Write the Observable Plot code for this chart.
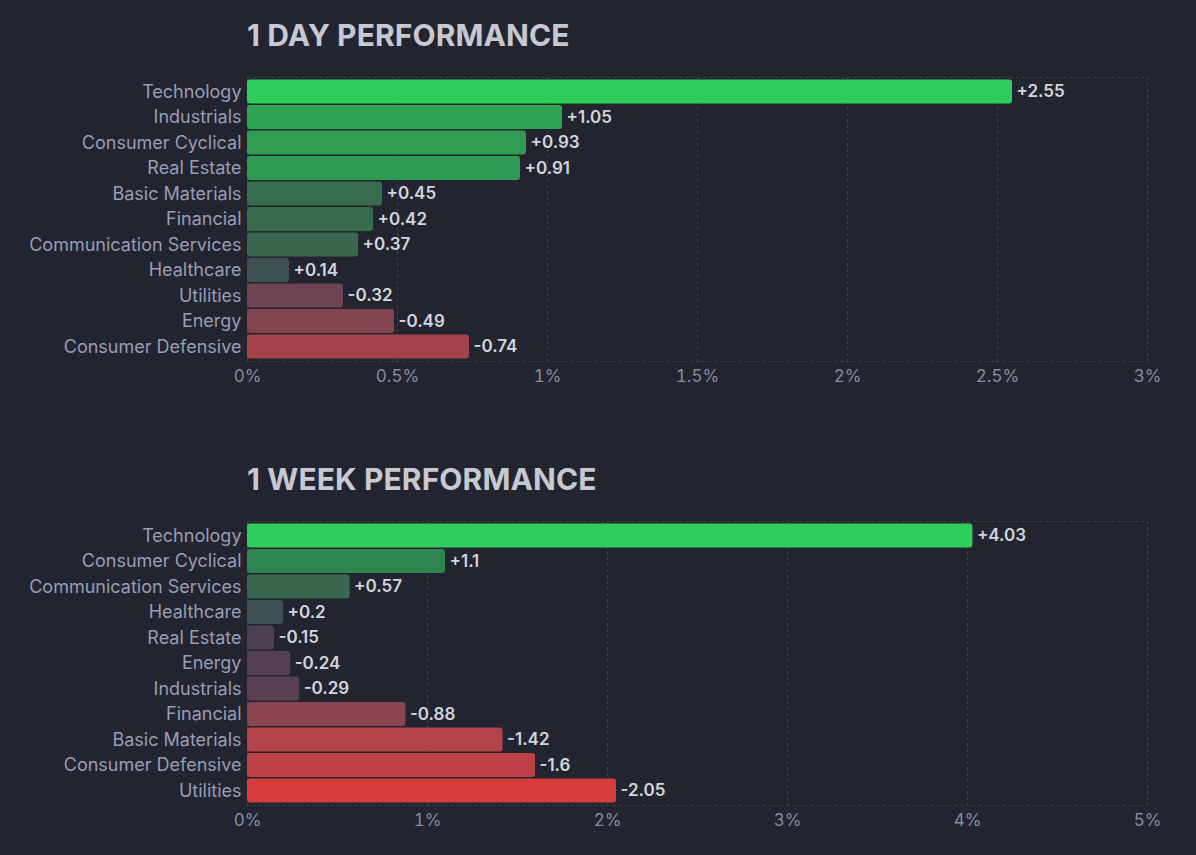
<!DOCTYPE html>
<html>
<head>
<meta charset="utf-8">
<script src="https://cdn.jsdelivr.net/npm/d3@7"></script>
<script src="https://cdn.jsdelivr.net/npm/@observablehq/plot@0.6"></script>
<style>
  html, body { margin: 0; padding: 0; background: #22252f; width: 1196px; height: 855px; overflow: hidden; font-family: Inter, "Noto Sans", sans-serif; }
  .title { position: absolute; left: 247px; font-size: 30px; font-weight: 700; color: #c6c8d2; line-height: 1; letter-spacing: 0.1px; }
  .chart { position: absolute; left: 0; }
</style>
</head>
<body>
<div class="title" id="t1" style="top:20px">1 DAY PERFORMANCE</div>
<div class="chart" id="c1" style="top:60px"></div>
<div class="title" id="t2" style="top:464px">1 WEEK PERFORMANCE</div>
<div class="chart" id="c2" style="top:504px"></div>
<script>
// ---- data ----
const dayCategories = ["Technology", "Industrials", "Consumer Cyclical", "Real Estate", "Basic Materials", "Financial", "Communication Services", "Healthcare", "Utilities", "Energy", "Consumer Defensive"];
const dayValues = [2.55, 1.05, 0.93, 0.91, 0.45, 0.42, 0.37, 0.14, -0.32, -0.49, -0.74];
const dayTicks = [0, 0.5, 1, 1.5, 2, 2.5, 3];

const weekCategories = ["Technology", "Consumer Cyclical", "Communication Services", "Healthcare", "Real Estate", "Energy", "Industrials", "Financial", "Basic Materials", "Consumer Defensive", "Utilities"];
const weekValues = [4.03, 1.1, 0.57, 0.2, -0.15, -0.24, -0.29, -0.88, -1.42, -1.6, -2.05];
const weekTicks = [0, 1, 2, 3, 4, 5];

const gridColor = "#3b3f4c";

function makeChart(categories, values, ticks, colorDomain, colorRange) {
  const data = categories.map((name, i) => ({name, value: values[i]}));
  return Plot.plot({
    width: 1196,
    height: 335,
    marginLeft: 247,
    marginRight: 49,
    marginTop: 17,
    marginBottom: 34,
    style: {background: "transparent", fontFamily: "Inter, 'Noto Sans', sans-serif", overflow: "visible"},
    x: {domain: [ticks[0], ticks[ticks.length - 1]]},
    y: {domain: categories, paddingInner: 0.06, paddingOuter: 0.1, round: false},
    color: {type: "linear", domain: colorDomain, range: colorRange},
    marks: [
      Plot.frame({stroke: gridColor, strokeDasharray: "3,3"}),
      Plot.gridX(ticks, {stroke: gridColor, strokeOpacity: 1, strokeDasharray: "3,3"}),
      Plot.barX(data, {x: d => Math.abs(d.value), y: "name", fill: "value", rx: 3}),
      Plot.text(data, {
        x: d => Math.abs(d.value), y: "name",
        text: d => (d.value > 0 ? "+" : "") + d.value,
        textAnchor: "start", dx: 4, fill: "#d3d5dd", fontSize: 17, fontWeight: 600
      }),
      Plot.axisX(ticks, {tickSize: 0, tickPadding: 8, tickFormat: d => d + "%", fill: "#868ba0", fontSize: 17, label: null}),
      Plot.axisY({tickSize: 0, tickPadding: 6, fill: "#989db3", fontSize: 18, label: null})
    ]
  });
}

document.getElementById("c1").append(makeChart(
  dayCategories, dayValues, dayTicks,
  [-0.8, -0.3, 0, 0.15, 0.45, 1.0, 2.5],
  ["#ab444a", "#6b4452", "#414554", "#3e5250", "#376d4e", "#2ea352", "#30cc5a"]
));
document.getElementById("c2").append(makeChart(
  weekCategories, weekValues, weekTicks,
  [-2.05, -1.5, -0.9, -0.15, 0, 0.2, 0.6, 1.1, 4.0],
  ["#d83c3d", "#b9424a", "#8c4450", "#4d3f50", "#414554", "#3e5150", "#3a674f", "#2f8550", "#30cc5a"]
));
</script>
</body>
</html>
